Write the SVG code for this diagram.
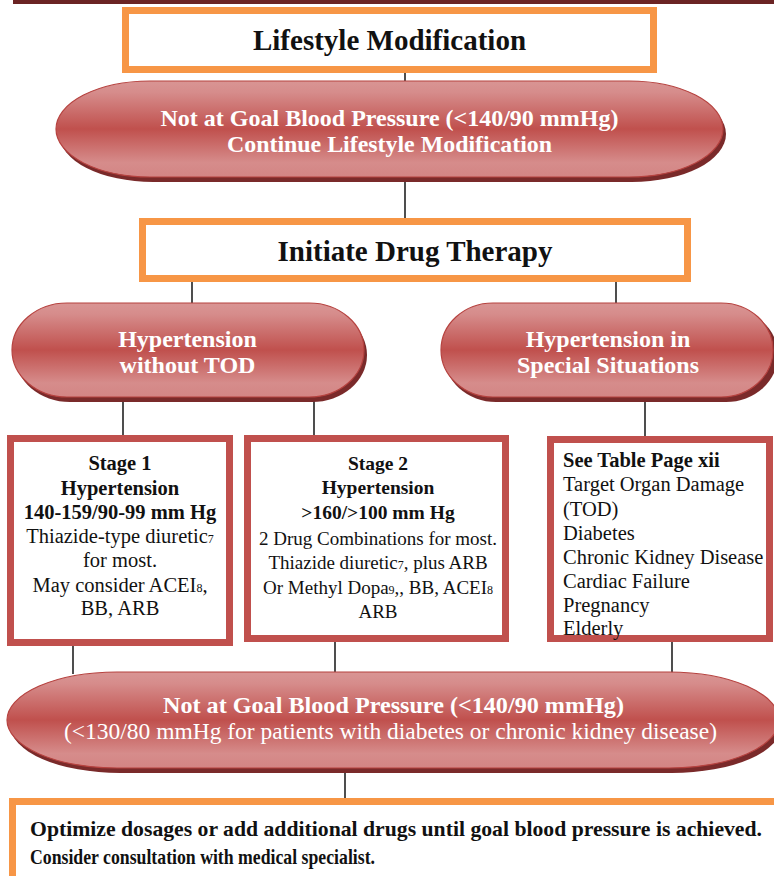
<svg xmlns="http://www.w3.org/2000/svg" width="774" height="876" viewBox="0 0 774 876">
<defs>
<linearGradient id="pg" x1="0" y1="0" x2="0" y2="1">
<stop offset="0" stop-color="#d99594"/>
<stop offset="0.12" stop-color="#d68c8b"/>
<stop offset="0.5" stop-color="#c0504d"/>
<stop offset="0.85" stop-color="#d68c8b"/>
<stop offset="1" stop-color="#d38584"/>
</linearGradient>
</defs>
<style>
.ob{fill:#fff;stroke:#f79646;stroke-width:7}
.rb{fill:#fff;stroke:#c0504d;stroke-width:7}
.pill{fill:url(#pg);stroke:#b6423f;stroke-width:1.2}
.sh{fill:#7a2a2a}
.ln{stroke:#222;stroke-width:1.6;fill:none}
.h1{font-family:"Liberation Serif","Times New Roman",serif;font-weight:bold;font-size:29px;fill:#111;text-anchor:middle}
.pt{font-family:"Liberation Serif","Times New Roman",serif;font-weight:bold;font-size:24px;fill:#fff;text-anchor:middle}
.pr{font-family:"Liberation Serif","Times New Roman",serif;font-size:23px;fill:#fff;text-anchor:middle}
.bb{font-family:"Liberation Serif","Times New Roman",serif;font-weight:bold;font-size:20.5px;fill:#111;text-anchor:middle}
.br{font-family:"Liberation Serif","Times New Roman",serif;font-size:20.5px;fill:#111;text-anchor:middle}
.b2b{font-family:"Liberation Serif","Times New Roman",serif;font-weight:bold;font-size:19.5px;fill:#111;text-anchor:middle}
.b2r{font-family:"Liberation Serif","Times New Roman",serif;font-size:19px;fill:#111;text-anchor:middle}
.l3{font-family:"Liberation Serif","Times New Roman",serif;font-size:20.5px;fill:#111}
.sub{font-size:12px}
.ft{font-family:"Liberation Serif","Times New Roman",serif;font-weight:bold;font-size:22px;fill:#111}
</style>
<rect x="13" y="0" width="761" height="4" fill="#6b2424"/>

<g id="connectors">
<line class="ln" x1="405" y1="73" x2="405" y2="82"/>
<line class="ln" x1="405" y1="177" x2="405" y2="219"/>
<line class="ln" x1="192" y1="281" x2="192" y2="304"/>
<line class="ln" x1="616" y1="281" x2="616" y2="304"/>
<line class="ln" x1="123" y1="397" x2="123" y2="436"/>
<line class="ln" x1="314" y1="397" x2="314" y2="436"/>
<line class="ln" x1="645" y1="397" x2="645" y2="437"/>
<line class="ln" x1="73" y1="645" x2="73" y2="674"/>
<line class="ln" x1="335" y1="642" x2="335" y2="673"/>
<line class="ln" x1="672" y1="642" x2="672" y2="673"/>
<line class="ln" x1="345" y1="768" x2="345" y2="799"/>
</g>

<g id="lifestyle">
<rect class="ob" x="125.5" y="10.5" width="528" height="59"/>
<text class="h1" x="389.5" y="50">Lifestyle Modification</text>
</g>

<g id="goal1">
<rect class="sh" x="59" y="86" width="667" height="96" rx="94" ry="48"/>
<rect class="pill" x="56" y="81" width="667" height="96" rx="94" ry="48"/>
<text class="pt" x="389.5" y="126" textLength="458" lengthAdjust="spacingAndGlyphs">Not at Goal Blood Pressure (&lt;140/90 mmHg)</text>
<text class="pt" x="389.5" y="152" textLength="325" lengthAdjust="spacingAndGlyphs">Continue Lifestyle Modification</text>
</g>

<g id="initiate">
<rect class="ob" x="142.5" y="221.5" width="545" height="57"/>
<text class="h1" x="415" y="261">Initiate Drug Therapy</text>
</g>

<g id="without-tod">
<rect class="sh" x="15" y="308" width="352" height="94" rx="55" ry="47"/>
<rect class="pill" x="12" y="303" width="352" height="94" rx="55" ry="47"/>
<text class="pt" x="187.5" y="347">Hypertension</text>
<text class="pt" x="187.5" y="373">without TOD</text>
</g>

<g id="special">
<rect class="sh" x="444" y="308" width="334" height="94" rx="52" ry="47"/>
<rect class="pill" x="441" y="303" width="332" height="94" rx="52" ry="47"/>
<text class="pt" x="608" y="347">Hypertension in</text>
<text class="pt" x="608" y="373">Special Situations</text>
</g>

<g id="stage1">
<rect class="rb" x="10.5" y="438.5" width="219" height="204"/>
<text class="bb" x="120" y="470">Stage 1</text>
<text class="bb" x="120" y="495">Hypertension</text>
<text class="bb" x="120" y="519">140-159/90-99 mm Hg</text>
<text class="br" x="120" y="543">Thiazide-type diuretic<tspan class="sub">7</tspan></text>
<text class="br" x="120" y="567">for most.</text>
<text class="br" x="120" y="592">May consider ACEI<tspan class="sub">8</tspan>,</text>
<text class="br" x="120" y="615">BB, ARB</text>
</g>

<g id="stage2">
<rect class="rb" x="247.5" y="438.5" width="258" height="200"/>
<text class="b2b" x="378" y="470">Stage 2</text>
<text class="b2b" x="378" y="494">Hypertension</text>
<text class="b2b" x="378" y="519">&gt;160/&gt;100 mm Hg</text>
<text class="b2r" x="378" y="545">2 Drug Combinations for most.</text>
<text class="b2r" x="378" y="569">Thiazide diuretic<tspan class="sub">7</tspan>, plus ARB</text>
<text class="b2r" x="378" y="594">Or Methyl Dopa<tspan class="sub">9</tspan>,, BB, ACEI<tspan class="sub">8</tspan></text>
<text class="b2r" x="378" y="618">ARB</text>
</g>

<g id="special-list">
<rect class="rb" x="550.5" y="439.5" width="219" height="199"/>
<text class="l3" x="563" y="467" font-weight="bold">See Table Page xii</text>
<text class="l3" x="563" y="491">Target Organ Damage</text>
<text class="l3" x="563" y="516">(TOD)</text>
<text class="l3" x="563" y="540">Diabetes</text>
<text class="l3" x="563" y="564">Chronic Kidney Disease</text>
<text class="l3" x="563" y="588">Cardiac Failure</text>
<text class="l3" x="563" y="612">Pregnancy</text>
<text class="l3" x="563" y="635">Elderly</text>
</g>

<g id="goal2">
<rect class="sh" x="10" y="677" width="772" height="96" rx="110" ry="48"/>
<rect class="pill" x="7" y="672" width="772" height="96" rx="110" ry="48"/>
<text class="pt" x="393.5" y="713" textLength="461" lengthAdjust="spacingAndGlyphs">Not at Goal Blood Pressure (&lt;140/90 mmHg)</text>
<text class="pr" x="390.5" y="739" textLength="653" lengthAdjust="spacingAndGlyphs">(&lt;130/80 mmHg for patients with diabetes or chronic kidney disease)</text>
</g>

<g id="optimize">
<rect class="ob" x="12.5" y="801.5" width="780" height="100"/>
<text class="ft" x="30" y="836" textLength="732" lengthAdjust="spacingAndGlyphs">Optimize dosages or add additional drugs until goal blood pressure is achieved.</text>
<text class="ft" x="30" y="864" textLength="345" lengthAdjust="spacingAndGlyphs">Consider consultation with medical specialist.</text>
</g>
</svg>
